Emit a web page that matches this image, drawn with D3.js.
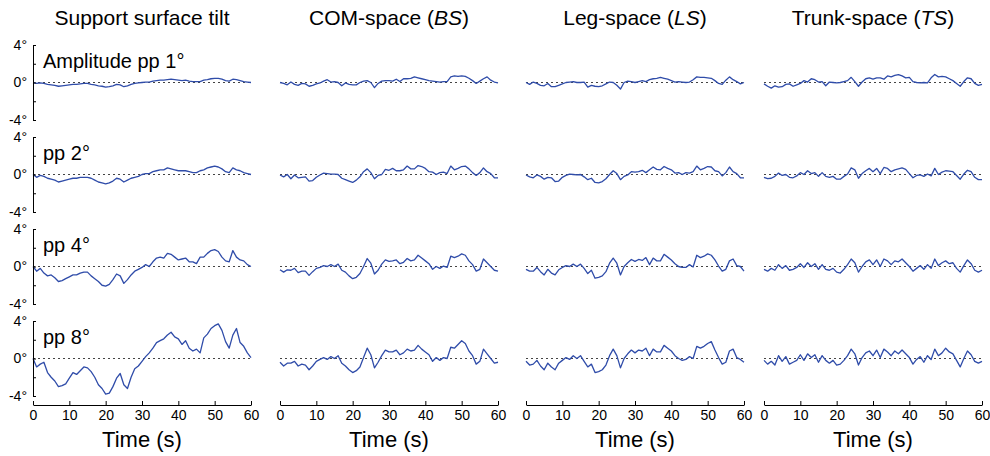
<!DOCTYPE html>
<html>
<head>
<meta charset="utf-8">
<script src="https://cdn.jsdelivr.net/npm/d3@7"></script>
<style>
  body { margin: 0; background: #fff; }
  svg { font-family: "Liberation Sans", Arial, sans-serif; }
</style>
</head>
<body>
<div id="chart"></div>
<script>
// time base (s), one sample per second
var time = d3.range(0, 61);

// support surface tilt (deg)
var tiltPP1 = [0.0,-0.1,-0.05,-0.1,-0.2,-0.25,-0.3,-0.4,-0.35,-0.3,-0.25,-0.2,-0.2,-0.15,-0.1,-0.1,-0.2,-0.25,-0.35,-0.4,-0.5,-0.45,-0.35,-0.2,-0.25,-0.45,-0.35,-0.2,-0.1,-0.05,0.0,0.05,0.05,0.15,0.2,0.25,0.25,0.3,0.35,0.3,0.25,0.2,0.25,0.15,0.1,0.1,0.1,0.25,0.3,0.4,0.45,0.45,0.35,0.2,0.15,0.35,0.3,0.2,0.1,0.05,0.0];
var tiltPP2 = [0.0,-0.3,-0.1,-0.2,-0.4,-0.5,-0.6,-0.8,-0.7,-0.6,-0.5,-0.4,-0.4,-0.3,-0.3,-0.3,-0.4,-0.6,-0.8,-0.9,-1.0,-0.9,-0.7,-0.4,-0.5,-0.8,-0.6,-0.4,-0.3,-0.2,0.0,0.1,0.1,0.3,0.4,0.5,0.5,0.7,0.6,0.5,0.4,0.4,0.4,0.3,0.2,0.2,0.4,0.5,0.7,0.8,0.9,0.8,0.6,0.3,0.2,0.7,0.5,0.4,0.2,0.1,0.0];
var tiltPP4 = [0.0,-0.5,-0.2,-0.7,-1.0,-0.9,-1.2,-1.6,-1.5,-1.3,-1.1,-0.9,-0.9,-0.7,-0.6,-0.6,-1.0,-1.3,-1.6,-2.0,-2.1,-1.9,-1.4,-0.8,-1.0,-1.8,-1.4,-0.9,-0.5,-0.3,-0.1,0.2,0.0,0.5,0.9,1.0,0.9,1.4,1.3,1.0,0.7,0.8,0.9,0.5,0.5,0.3,1.0,1.0,1.4,1.7,1.8,1.6,1.0,0.6,0.5,1.7,1.0,0.7,0.6,0.2,0.0];
var tiltPP8 = [0.0,-0.9,-0.6,-0.4,-1.5,-2.0,-2.4,-3.0,-2.9,-2.7,-2.1,-1.5,-1.7,-1.3,-0.9,-1.0,-1.4,-2.0,-2.8,-3.2,-3.8,-3.7,-3.0,-2.1,-1.6,-2.8,-3.2,-2.0,-1.1,-0.8,-0.3,0.2,0.6,1.1,1.7,1.9,2.1,2.5,2.8,2.3,2.1,1.5,1.9,1.1,0.8,1.0,0.6,2.2,2.6,3.2,3.5,3.7,3.0,1.8,1.1,2.5,3.2,1.7,1.3,0.6,0.1];

// COM-space (BS) sway (deg)
var comPP1 = [0.0,-0.1,-0.25,0.05,-0.2,-0.3,-0.1,-0.15,-0.4,-0.3,-0.15,-0.05,0.15,0.3,0.05,0.1,0.0,-0.35,-0.05,-0.2,-0.25,-0.25,0.0,0.15,0.2,0.0,-0.55,-0.1,0.15,0.2,0.2,0.15,0.35,0.1,0.4,0.4,0.45,0.6,0.5,0.4,0.3,0.2,0.15,0.1,0.05,0.1,0.1,0.6,0.7,0.65,0.7,0.65,0.45,0.2,-0.1,0.15,0.4,0.6,0.25,0.05,-0.05];
var comPP2 = [-0.05,-0.25,0.0,-0.45,-0.05,-0.35,-0.3,-0.25,-0.7,-0.65,-0.3,-0.05,0.15,0.1,0.05,0.05,0.0,-0.4,-0.55,-0.7,-0.85,-0.6,-0.25,0.3,0.6,0.2,-0.45,-0.1,0.0,0.55,0.45,0.65,0.4,0.4,0.5,0.9,0.6,0.6,0.95,0.85,0.65,0.3,0.25,0.0,0.2,0.25,0.1,0.9,0.5,0.65,0.85,0.9,0.6,0.2,-0.1,0.2,0.7,0.3,0.1,-0.35,-0.35];
var comPP4 = [-0.35,-0.6,-0.35,-0.4,-0.2,-0.65,-0.5,-0.5,-0.95,-0.55,-0.2,-0.1,0.1,0.0,0.2,0.0,0.25,-0.4,-0.6,-1.0,-1.3,-1.15,-0.75,0.0,0.85,0.35,-0.8,-0.4,0.25,0.7,0.55,0.6,0.7,0.3,0.45,0.85,0.6,0.7,1.2,0.9,0.6,0.3,-0.3,0.0,-0.2,0.05,-0.1,1.1,0.95,1.1,1.35,1.2,0.6,0.2,-0.5,-0.3,0.8,0.4,0.0,-0.4,-0.5];
var comPP8 = [-0.4,-0.8,-0.5,-0.5,-0.3,-0.8,-0.6,-0.7,-1.2,-0.8,-0.3,-0.1,0.1,-0.1,0.2,0.0,0.3,-0.5,-0.8,-1.2,-1.5,-1.3,-0.9,0.1,1.1,0.4,-1.0,-0.4,0.3,0.9,0.7,0.7,0.9,0.4,0.6,1.0,0.8,0.9,1.4,1.0,0.7,0.4,-0.3,0.1,-0.2,0.1,0.0,1.2,1.1,1.5,1.9,1.6,0.8,0.3,-0.6,-0.3,1.0,0.5,0.0,-0.5,-0.4];

// Leg-space (LS) sway (deg)
var legPP1 = [0.0,-0.2,0.05,-0.1,-0.3,-0.35,-0.1,-0.45,-0.45,-0.3,-0.15,0.0,0.05,0.1,0.0,0.0,0.05,-0.5,-0.3,-0.4,-0.45,-0.35,-0.15,0.05,0.0,-0.3,-0.7,0.0,0.15,0.1,0.0,0.1,0.2,0.1,0.3,0.4,0.45,0.55,0.45,0.35,0.2,0.05,0.1,0.05,0.0,0.05,0.3,0.6,0.55,0.55,0.5,0.45,0.2,-0.1,-0.2,0.25,0.6,0.3,0.1,-0.15,0.0];
var legPP2 = [-0.05,-0.25,-0.35,-0.05,-0.2,-0.5,-0.3,-0.35,-0.75,-0.7,-0.3,-0.1,0.05,0.0,-0.05,0.0,-0.25,-0.55,-0.4,-0.85,-0.9,-0.75,-0.45,0.0,0.4,0.1,-0.55,-0.2,-0.05,0.3,0.25,0.3,0.45,0.2,0.5,0.8,0.55,0.5,0.85,0.65,0.5,0.15,0.2,0.0,0.2,0.15,0.3,0.9,0.5,0.65,0.85,0.8,0.4,0.3,-0.15,0.2,0.8,0.3,0.1,-0.35,-0.35];
var legPP4 = [-0.3,-0.5,-0.5,-0.1,-0.55,-0.9,-0.3,-0.7,-0.9,-0.35,-0.1,0.1,0.0,0.25,0.0,0.25,-0.2,-0.75,-0.4,-1.25,-1.15,-1.0,-0.55,0.35,0.9,0.35,-0.9,0.0,0.4,0.75,0.55,0.75,0.65,0.95,0.2,0.9,0.6,0.6,1.3,1.0,0.7,0.3,0.0,-0.1,-0.1,0.2,-0.05,1.2,0.95,1.1,1.35,1.2,0.7,0.05,-0.5,-0.3,0.6,0.8,0.1,0.0,-0.5];
var legPP8 = [-0.3,-0.7,-0.6,-0.2,-0.8,-1.2,-0.5,-0.9,-1.2,-0.5,-0.2,0.1,-0.1,0.3,0.0,0.3,-0.3,-0.9,-0.6,-1.5,-1.4,-1.2,-0.7,0.3,1.0,0.3,-1.0,0.0,0.5,0.9,0.6,0.9,0.8,1.1,0.3,1.0,0.7,0.7,1.4,1.1,0.8,0.3,0.0,-0.2,-0.1,0.2,0.0,1.3,1.1,1.3,1.6,1.8,0.9,0.1,-0.6,-0.4,0.8,1.0,0.1,-0.1,-0.4];

// Trunk-space (TS) sway (deg)
var trunkPP1 = [-0.15,-0.4,-0.6,-0.35,-0.5,-0.45,-0.2,-0.15,-0.4,-0.25,-0.1,0.2,0.05,0.4,0.3,0.05,0.1,-0.35,0.05,0.0,-0.05,0.0,0.1,0.2,0.55,0.1,-0.4,0.05,0.4,0.5,0.35,0.5,0.5,0.35,0.7,0.6,0.75,0.85,0.7,0.5,0.55,0.1,0.0,-0.05,0.0,-0.05,0.5,0.85,0.6,0.65,0.6,0.4,0.2,-0.1,-0.4,0.1,0.5,0.4,-0.1,-0.3,-0.2];
var trunkPP2 = [-0.3,-0.45,-0.4,-0.2,0.15,-0.1,0.0,-0.3,-0.35,-0.15,0.2,0.0,0.4,0.1,0.2,-0.2,0.2,-0.2,-0.3,-0.2,-0.5,-0.5,-0.2,0.05,0.7,0.5,-0.4,0.1,0.4,0.65,0.3,0.65,0.1,0.75,0.65,0.3,0.5,0.6,0.7,0.55,0.1,-0.35,-0.1,-0.05,-0.2,0.05,-0.15,0.65,0.0,0.25,0.4,0.35,0.3,-0.1,-0.5,0.05,0.45,0.3,-0.3,-0.55,-0.55];
var trunkPP4 = [-0.3,-0.5,-0.2,-0.4,0.2,-0.2,0.1,-0.4,-0.3,-0.1,0.3,-0.1,0.4,0.0,0.3,-0.3,0.2,-0.3,-0.4,-0.2,-0.6,-0.7,-0.3,0.2,0.8,0.4,-0.6,0.0,0.5,0.7,0.2,0.7,0.0,0.8,0.6,0.2,0.6,0.5,0.8,0.4,0.0,-0.5,-0.2,0.1,-0.3,0.2,-0.2,0.8,0.1,0.4,0.6,0.3,0.4,-0.2,-0.6,0.1,0.7,0.3,-0.4,-0.6,-0.4];
var trunkPP8 = [-0.2,-0.6,-0.3,-0.7,0.3,-0.3,0.2,-0.6,-0.4,-0.2,0.4,-0.2,0.5,0.1,0.4,-0.4,0.3,-0.2,-0.5,-0.2,-0.7,-0.6,-0.2,0.3,1.0,0.5,-0.7,0.1,0.6,0.8,0.3,0.9,0.1,1.0,0.7,0.3,0.8,0.5,0.9,0.5,0.1,-0.6,-0.1,0.2,-0.4,0.3,-0.1,1.0,0.3,0.6,1.1,0.7,0.5,-0.2,-0.9,0.0,0.8,0.4,-0.3,-0.5,-0.3];

var columns = [
    { title: ["Support surface tilt"], rows: [tiltPP1, tiltPP2, tiltPP4, tiltPP8] },
    { title: ["COM-space (", "BS", ")"], rows: [comPP1, comPP2, comPP4, comPP8] },
    { title: ["Leg-space (", "LS", ")"], rows: [legPP1, legPP2, legPP4, legPP8] },
    { title: ["Trunk-space (", "TS", ")"], rows: [trunkPP1, trunkPP2, trunkPP4, trunkPP8] }
];
var rowLabels = ["Amplitude pp 1°", "pp 2°", "pp 4°", "pp 8°"];
var yTicks = [-4, -2, 0, 2, 4];
var xTicks = [0, 10, 20, 30, 40, 50, 60];

// layout
var W = 990, H = 456;
var colLeft = [33, 280, 526, 764];
var panelW = 218;
var rowTop = [45, 137, 229, 321];
var panelH = 75;
var axisY = 405;
var lineColor = "#2f4ca9";

var svg = d3.select("#chart").append("svg")
    .attr("width", W)
    .attr("height", H);

var yScale = d3.scaleLinear().domain([-4, 4]).range([panelH, 0]);

columns.forEach(function(col, c) {
    var x = d3.scaleLinear().domain([0, 60]).range([colLeft[c], colLeft[c] + panelW]);
    var mid = colLeft[c] + panelW / 2;

    // column title
    var t = svg.append("text")
        .attr("x", mid)
        .attr("y", 25)
        .attr("text-anchor", "middle")
        .attr("font-size", 21)
        .attr("fill", "#000");
    col.title.forEach(function(part, i) {
        t.append("tspan")
            .attr("font-style", i === 1 ? "italic" : "normal")
            .text(part);
    });

    col.rows.forEach(function(series, r) {
        var g = svg.append("g")
            .attr("transform", "translate(0," + rowTop[r] + ")");

        // zero reference
        g.append("line")
            .attr("x1", x(0))
            .attr("x2", x(60))
            .attr("y1", yScale(0))
            .attr("y2", yScale(0))
            .attr("stroke", "#444")
            .attr("stroke-width", 1.1)
            .attr("stroke-dasharray", "2,3");

        var line = d3.line()
            .x(function(d, i) { return x(time[i]); })
            .y(function(d) { return yScale(d); });

        g.append("path")
            .datum(series)
            .attr("d", line)
            .attr("fill", "none")
            .attr("stroke", lineColor)
            .attr("stroke-width", 1.3)
            .attr("stroke-linejoin", "round");

        if (c === 0) {
            var yAxis = d3.axisLeft(yScale)
                .tickValues(yTicks)
                .tickSizeInner(-3)
                .tickSizeOuter(0)
                .tickPadding(6)
                .tickFormat(function(d) { return d % 4 === 0 ? d + "°" : ""; });
            var ya = g.append("g")
                .attr("transform", "translate(" + colLeft[0] + ",0)")
                .call(yAxis);
            ya.selectAll("text").attr("font-size", 14).attr("fill", "#000")
                .attr("font-family", "Liberation Sans, Arial, sans-serif");

            g.append("text")
                .attr("x", colLeft[0] + 10)
                .attr("y", 23)
                .attr("font-size", 20)
                .text(rowLabels[r]);
        }
    });

    // x axis
    var xAxis = d3.axisBottom(x)
        .tickValues(xTicks)
        .tickSizeInner(-4)
        .tickSizeOuter(0)
        .tickPadding(5);
    var xa = svg.append("g")
        .attr("transform", "translate(0," + axisY + ")")
        .call(xAxis);
    xa.selectAll("text").attr("font-size", 14).attr("fill", "#000")
        .attr("font-family", "Liberation Sans, Arial, sans-serif");

    svg.append("text")
        .attr("x", mid)
        .attr("y", 447)
        .attr("text-anchor", "middle")
        .attr("font-size", 22)
        .text("Time (s)");
});
</script>
</body>
</html>
